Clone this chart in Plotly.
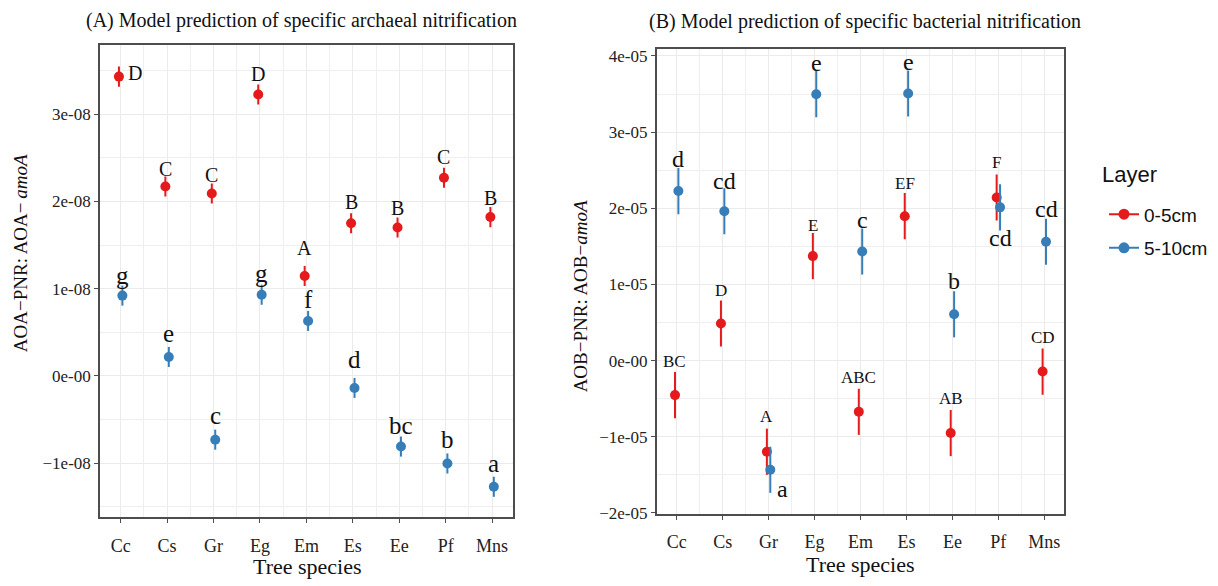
import plotly.graph_objects as go

# Tree species along the x axis
species = ["Cc", "Cs", "Gr", "Eg", "Em", "Es", "Ee", "Pf", "Mns"]
layers = ["0-5cm", "5-10cm"]

# (A) archaeal nitrification per AOA-amoA: model means and standard errors
aoa_top = [3.43e-8, 2.17e-8, 2.09e-8, 3.225e-8, 1.145e-8, 1.75e-8, 1.70e-8, 2.27e-8, 1.82e-8]
aoa_sub = [0.92e-8, 0.217e-8, -0.731e-8, 0.93e-8, 0.63e-8, -0.138e-8, -0.81e-8, -1.004e-8, -1.271e-8]
aoa_top_se = [1.15e-9] * 9
aoa_sub_se = [1.15e-9] * 9
aoa_top_letters = ["D", "C", "C", "D", "A", "B", "B", "C", "B"]
aoa_sub_letters = ["g", "e", "c", "g", "f", "d", "bc", "b", "a"]

# (B) bacterial nitrification per AOB-amoA
aob_top = [-0.453e-5, 0.487e-5, -1.196e-5, 1.372e-5, -0.672e-5, 1.896e-5, -0.951e-5, 2.141e-5, -0.144e-5]
aob_sub = [2.226e-5, 1.961e-5, -1.433e-5, 3.498e-5, 1.433e-5, 3.507e-5, 0.608e-5, 2.012e-5, 1.561e-5]
aob_top_se = [3.03e-6] * 9
aob_sub_se = [3.03e-6] * 9
aob_top_letters = ["BC", "D", "A", "E", "ABC", "EF", "AB", "F", "CD"]
aob_sub_letters = ["d", "cd", "a", "e", "c", "e", "b", "cd", "cd"]

# Axis ticks
aoa_ticks = [-1e-8, 0, 1e-8, 2e-8, 3e-8]
aoa_tick_text = ["\u22121e-08", "0e-00", "1e-08", "2e-08", "3e-08"]
aob_ticks = [-2e-5, -1e-5, 0, 1e-5, 2e-5, 3e-5, 4e-5]
aob_tick_text = ["\u22122e-05", "\u22121e-05", "0e-00", "1e-05", "2e-05", "3e-05", "4e-05"]

RED = "#E41A1C"
BLUE = "#377EB8"
SERIF = "Liberation Serif"
SANS = "Liberation Sans"
DODGE = 0.037
W, H = 1218, 586

# Letter placement (pixel shifts relative to each point)
aoa_top_shift = [(16, 4), (0, 18), (0, 19), (0, 20), (0, 28), (0, 21), (0, 20), (0, 21), (0, 19)]
aoa_sub_shift = [(0, 20), (0, 23), (0, 24), (0, 21), (0, 21), (0, 28), (0, 21), (0, 24), (0, 23)]
aob_top_shift = [(0, 34), (0, 33), (0, 35), (0, 31), (0, 34), (0, 33), (0, 35), (0, 35), (0, 34)]
aob_sub_shift = [(0, 32), (0, 30), (12, -19), (0, 31), (0, 31), (0, 31), (0, 33), (0, -31), (0, 33)]


def px_x(p):
    return p / W


def px_y(p):
    return 1 - p / H


fig = go.Figure()
idx = list(range(len(species)))


def add_series(xa, ya, vals, se, color, name, sign):
    fig.add_trace(go.Scatter(
        x=[i + sign * DODGE for i in idx], y=vals,
        xaxis=xa, yaxis=ya, mode="markers", name=name, showlegend=False,
        marker=dict(color=color, size=10),
        error_y=dict(type="data", array=se, color=color, thickness=2, width=0),
    ))


add_series("x", "y", aoa_top, aoa_top_se, RED, layers[0], -1)
add_series("x", "y", aoa_sub, aoa_sub_se, BLUE, layers[1], 1)
add_series("x2", "y2", aob_top, aob_top_se, RED, layers[0], -1)
add_series("x2", "y2", aob_sub, aob_sub_se, BLUE, layers[1], 1)

# Legend entries (one group each so the gap between them can be set)
for name, color in zip(layers, [RED, BLUE]):
    fig.add_trace(go.Scatter(x=[None], y=[None], mode="lines+markers", name=name,
                             legendgroup=name,
                             line=dict(color=color, width=2),
                             marker=dict(color=color, size=11), showlegend=True))

annotations = []


def add_letters(xr, yr, vals, letters, shifts, sign, size):
    for i, (v, t, (dx, dy)) in enumerate(zip(vals, letters, shifts)):
        annotations.append(dict(
            x=i + sign * DODGE, y=v, xref=xr, yref=yr, text=t, showarrow=False,
            xshift=dx, yshift=dy, font=dict(family=SERIF, size=size, color="#111"),
            xanchor="center", yanchor="middle"))


add_letters("x", "y", aoa_top, aoa_top_letters, aoa_top_shift, -1, 20)
add_letters("x", "y", aoa_sub, aoa_sub_letters, aoa_sub_shift, 1, 25)
add_letters("x2", "y2", aob_top, aob_top_letters, aob_top_shift, -1, 17)
add_letters("x2", "y2", aob_sub, aob_sub_letters, aob_sub_shift, 1, 24)


def paper_text(x, y, text, size, family=SERIF, angle=0, xanchor="center"):
    return dict(x=px_x(x), y=px_y(y), xref="paper", yref="paper", showarrow=False,
                text=text, textangle=angle, xanchor=xanchor, yanchor="middle",
                font=dict(family=family, size=size, color="#111"))


annotations += [
    paper_text(301, 19, "(A) Model prediction of specific archaeal nitrification", 20),
    paper_text(865, 20, "(B) Model prediction of specific bacterial nitrification", 20),
    paper_text(307, 575, "Tree species", 22),
    paper_text(860, 573, "Tree species", 22),
    paper_text(20, 256, "AOA\u2212PNR: AOA\u2212\u2009<i>amoA</i>", 19, angle=-90),
    paper_text(580, 300, "AOB\u2212PNR: AOB\u2212<i>amoA</i>", 19, angle=-90),
    paper_text(1100, 176, "Layer", 22, family=SANS, xanchor="left"),
]

axis_common = dict(
    showline=True, linecolor="#4d4d4d", linewidth=1.6, mirror=True,
    ticks="outside", ticklen=4, tickcolor="#4d4d4d", tickwidth=1.2,
    showgrid=True, gridcolor="#EBEBEB", gridwidth=1.2, zeroline=False,
)

xaxis_cfg = dict(axis_common, tickmode="array", tickvals=idx, ticktext=species,
                 tickfont=dict(family=SERIF, size=18, color="#222"), ticklabelstandoff=7,
                 minor=dict(tickmode="array", tickvals=[i + 0.5 for i in range(-1, 9)],
                            showgrid=True, gridcolor="#EFEFEF", gridwidth=1, ticks=""))

yfont = dict(family=SERIF, size=17, color="#222")

fig.update_layout(
    width=W, height=H, margin=dict(l=0, r=0, t=0, b=0),
    plot_bgcolor="white", paper_bgcolor="white",
    xaxis=dict(xaxis_cfg, domain=[px_x(100), px_x(513)], range=[-0.445, 8.45], anchor="y"),
    yaxis=dict(axis_common, domain=[px_y(525), px_y(44.3)], range=[-1.619e-8, 3.787e-8],
               tickmode="array", tickvals=aoa_ticks, ticktext=aoa_tick_text, anchor="x",
               tickfont=yfont,
               minor=dict(tickmode="array", tickvals=[-1.5e-8, -0.5e-8, 0.5e-8, 1.5e-8, 2.5e-8, 3.5e-8],
                          showgrid=True, gridcolor="#EFEFEF", gridwidth=1, ticks="")),
    xaxis2=dict(xaxis_cfg, domain=[px_x(656.7), px_x(1064.3)], range=[-0.435, 8.435], anchor="y2"),
    yaxis2=dict(axis_common, domain=[px_y(521.5), px_y(48.3)], range=[-2.01e-5, 4.086e-5],
                tickmode="array", tickvals=aob_ticks, ticktext=aob_tick_text, anchor="x2",
                tickfont=yfont,
                minor=dict(tickmode="array", tickvals=[-1.5e-5, -0.5e-5, 0.5e-5, 1.5e-5, 2.5e-5, 3.5e-5],
                           showgrid=True, gridcolor="#EFEFEF", gridwidth=1, ticks="")),
    legend=dict(x=px_x(1104), y=px_y(197), xanchor="left", yanchor="top",
                font=dict(family=SANS, size=19, color="#111"), bgcolor="rgba(0,0,0,0)",
                itemwidth=30, tracegroupgap=6),
    annotations=annotations,
)

fig.write_html("out.html")
